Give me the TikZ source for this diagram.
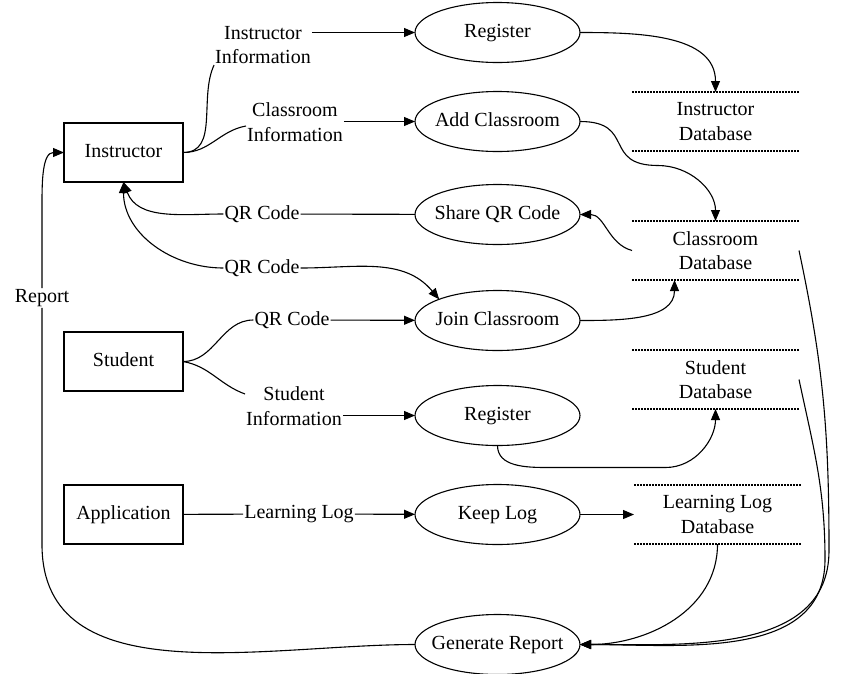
\documentclass[tikz,border=0pt]{standalone}
\usepackage{fontspec}
\setmainfont{Liberation Serif}
\usetikzlibrary{positioning,shapes.geometric,arrows.meta}

\begin{document}
\begin{tikzpicture}[
  x=1pt, y=1pt,
  every node/.style={font=\fontsize{20}{24.5}\selectfont},
  entity/.style={rectangle, draw, line width=1.1pt, minimum width=119pt,
                 minimum height=59pt, outer sep=0pt, align=center,
                 text height=14pt, text depth=4pt},
  proc/.style={ellipse, draw, line width=1.1pt, minimum width=165pt,
               minimum height=60pt, inner xsep=-12pt, outer sep=0pt,
               align=center, text height=14pt, text depth=4pt},
  store/.style={rectangle, minimum width=167pt, minimum height=59pt,
                outer sep=0pt, align=center},
  lbl/.style={align=center, inner sep=1pt},
  dots/.style={line width=1.1pt, dash pattern=on 1.6pt off 1.4pt},
  flow/.style={line width=1.1pt},
  arr/.style={flow, -{Triangle[length=11pt,width=9pt]}}
]
\useasboundingbox (0,0) rectangle (850,-673);

\node[entity] (I) at (123.5,-152.5) {Instructor};
\node[entity, below=150pt of I]  (S)  {Student};
\node[entity, below=94pt of S]   (A)  {Application};
\node[proc,   right=232pt of A]  (KL) {Keep Log};
\node[proc,   above=39pt of KL]  (R2) {Register};
\node[proc,   above=35pt of R2]  (JC) {Join Classroom};
\node[proc,   above=46pt of JC]  (SQ) {Share QR Code};
\node[proc,   above=33pt of SQ]  (AC) {Add Classroom};
\node[proc,   above=29pt of AC]  (R1) {Register};
\node[proc,   below=70pt of KL]  (GR) {Generate Report};
\node[store,  right=52pt of AC]  (ID) {Instructor\\Database};
\node[store,  below=70pt of ID]  (CD) {Classroom\\Database};
\node[store,  below=70pt of CD]  (SD) {Student\\Database};
\node[store,  right=54pt of KL]  (LD) {Learning Log\\Database};

% flow labels
\node[lbl] (lII)  at (263,-45)  {Instructor\\Information};
\node[lbl] (lCI)  at (295,-122) {Classroom\\Information};
\node[lbl] (lQa)  at (262,-214) {QR Code};
\node[lbl] (lQb)  at (262,-268) {QR Code};
\node[lbl] (lQc)  at (292,-320) {QR Code};
\node[lbl] (lSI)  at (294,-406) {Student\\Information};
\node[lbl] (lLL)  at (299,-514) {Learning Log};
\node[lbl] (lRep) at (42,-298)  {Report};

% data stores
\draw[dots] (ID.north west) -- (ID.north east) (ID.south west) -- (ID.south east);
\draw[dots] (CD.north west) -- (CD.north east) (CD.south west) -- (CD.south east);
\draw[dots] (SD.north west) -- (SD.north east) (SD.south west) -- (SD.south east);
\draw[dots] (LD.north west) -- (LD.north east) (LD.south west) -- (LD.south east);

\draw[flow] (I.east) to[out=0,in=-115] (lII.south west);
\draw[arr]  (lII.east |- R1) -- (R1);
\draw[flow] (I.east) to[out=0,in=190] ([yshift=-4pt]lCI.west);
\draw[arr]  (lCI.east |- AC) -- (AC);
\draw[flow] (SQ) -- (lQa);
\draw[arr]  (lQa.west) to[out=180,in=-70] (I.south);
\draw[arr]  (lQb.west) to[out=180,in=-90] (I.south);
\draw[arr]  (lQb.east) to[out=0,in=130] (JC.north west);
\draw[flow] (S.east) to[out=0,in=180] (lQc.west);
\draw[arr]  (lQc) -- (JC);
\draw[flow] (S.east) to[out=-10,in=160] ([yshift=12pt]lSI.west);
\draw[arr]  (lSI.east |- R2) -- (R2);
\draw[flow] (A) -- (lLL);
\draw[arr]  (lLL) -- (KL);
\draw[arr]  (KL) -- (LD);

\draw[arr] (R1.east) to[out=0,in=90] (ID.north);
\draw[arr] (AC.east) to[out=0,in=180,looseness=1.6] ++(78,-44)
           to[out=0,in=90] (CD.north);
\draw[arr] (CD.west) to[out=165,in=0] (SQ.east);
\draw[arr] (JC.east) to[out=0,in=-90] ([xshift=-41pt]CD.south);
\draw[arr] (R2.south) to[out=-90,in=180] ++(50,-22) -- ++(118,0)
           to[out=0,in=-90] (SD.south);

% report
\draw[arr]  (LD.south) to[out=-90,in=0] (GR.east);
\draw[arr]  (CD.east) to[out=-78,in=90] ++(30,-300) to[out=-90,in=0] (GR.east);
\draw[arr]  (SD.east) to[out=-78,in=90] ++(26,-180) to[out=-90,in=0] (GR.east);
\draw[flow] (GR.west) to[out=180,in=-90] ++(-373,100) -- (lRep.south);
\draw[arr]  (lRep.north) -- ++(0,85) to[out=90,in=180] (I.west);

\end{tikzpicture}
\end{document}
